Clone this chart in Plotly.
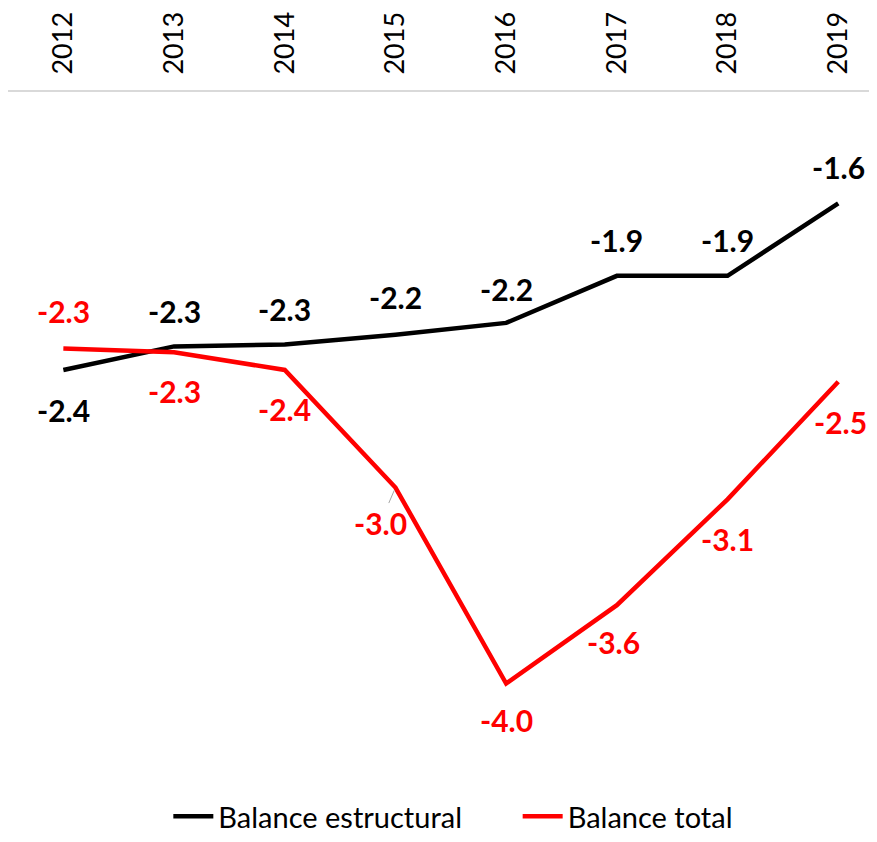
import plotly.graph_objects as go

years = ["2012", "2013", "2014", "2015", "2016", "2017", "2018", "2019"]
estructural = [-2.40, -2.28, -2.27, -2.22, -2.16, -1.92, -1.92, -1.55]
total = [-2.29, -2.31, -2.40, -3.00, -4.00, -3.60, -3.06, -2.46]

# label placement (pixel offsets) kept separate from data
est_shift = [(0, -40), (0, 35), (0, 35), (0, 38), (0, 34), (0, 36), (0, 36), (0, 36)]
tot_shift = [(0, 37), (0, -39), (0, -39), (-15, -35), (0, -36), (-3, -37), (0, -40), (2, -40)]

FONT = "Lato"
BLACK = "#000000"
RED = "#ff0000"
LABEL_SIZE = 30

fig = go.Figure()
fig.add_trace(go.Scatter(x=years, y=estructural, mode="lines", name="Balance estructural",
                         line=dict(color=BLACK, width=4.5), legend="legend"))
fig.add_trace(go.Scatter(x=years, y=total, mode="lines", name="Balance total",
                         line=dict(color=RED, width=4.5), legend="legend2"))

# on a category axis annotations are placed by category index
for i, (v, (dx, dy)) in enumerate(zip(estructural, est_shift)):
    fig.add_annotation(x=i, y=v, text="<b>%.1f</b>" % v, showarrow=False,
                       xshift=dx, yshift=dy,
                       font=dict(family=FONT, size=LABEL_SIZE, color=BLACK))
for i, (v, (dx, dy)) in enumerate(zip(total, tot_shift)):
    if i == 3:
        fig.add_annotation(x=i, y=v, text="<b>%.1f</b>" % v, showarrow=True,
                           arrowhead=0, arrowwidth=1, arrowcolor="#a6a6a6", ax=dx, ay=-dy,
                           standoff=3, font=dict(family=FONT, size=LABEL_SIZE, color=RED))
    else:
        fig.add_annotation(x=i, y=v, text="<b>%.1f</b>" % v, showarrow=False,
                           xshift=dx, yshift=dy,
                           font=dict(family=FONT, size=LABEL_SIZE, color=RED))

legend_style = dict(orientation="h", xanchor="left", yref="container", y=0.0,
                    yanchor="bottom", font=dict(family=FONT, size=29, color="black"),
                    itemwidth=40, bgcolor="rgba(0,0,0,0)")

# page body has an 8px default margin, so the figure is 8px smaller
fig.update_layout(
    width=869, height=834,
    margin=dict(l=0, r=0, t=84, b=62),
    paper_bgcolor="white", plot_bgcolor="white",
    font=dict(family=FONT, color="black"),
    showlegend=True,
    legend=dict(x=0.1845, **legend_style),
    legend2=dict(x=0.5865, **legend_style),
    xaxis=dict(side="top", type="category", range=[-0.5, 7.35], showgrid=False,
               showline=True, linecolor="#d9d9d9", linewidth=2, ticks="",
               tickangle=-90, tickfont=dict(family=FONT, size=27, color="black"),
               ticklabelstandoff=10, zeroline=False, automargin=False),
    yaxis=dict(range=[-4.492, -0.982], showticklabels=False, showline=False, ticks="",
               showgrid=False, zeroline=False, automargin=False),
)

fig.write_html("out.html")
